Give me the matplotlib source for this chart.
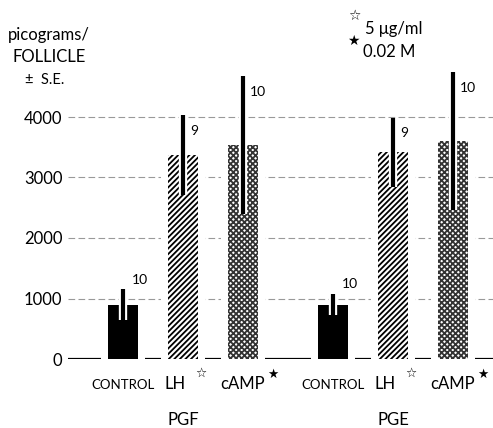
import matplotlib
matplotlib.use('Agg')
import matplotlib.pyplot as plt
import matplotlib.patheffects as pe

# data
groups = ['PGF', 'PGE']
treatments = ['CONTROL', 'LH', 'cAMP']
means = [900, 3370, 3530, 900, 3420, 3600]
se = [250, 660, 1140, 175, 570, 1140]
n_labels = ['10', '9', '10', '10', '9', '10']
yticks = [0, 1000, 2000, 3000, 4000]

W, H = 493, 428
plt.rcParams['font.family'] = ['Lato', 'DejaVu Sans']
plt.rcParams['hatch.linewidth'] = 1.3

fig = plt.figure(figsize=(W / 100, H / 100), dpi=100)
# axes: y=0 at pixel 359, 5000 at 56.5; x unit = 60 px, 0 at pixel 123
x0_px, unit = 123, 60
ax = fig.add_axes([68 / W, (H - 359) / H, 1 - 68 / W, (359 - 56.5) / H])
ax.set_xlim((68 - x0_px) / unit, (W - x0_px) / unit)
ax.set_ylim(0, 5000)

pos = [0, 1, 2, 3.5, 4.5, 5.5]
width = 0.5
margin = 0.12
styles = [dict(color='black'),
          dict(color='white', edgecolor='black', hatch='//////', linewidth=0),
          dict(color='white', edgecolor='#333333', hatch='xxxxxx', linewidth=0)]

# dashed gridlines (drawn behind white masks)
for v in yticks[1:]:
    ax.axhline(v, color='#999999', lw=0.8, dashes=(6, 3), zorder=1)

for i, (p, m, s) in enumerate(zip(pos, means, se)):
    st = styles[i % 3]
    ax.bar(p, m, width + 2 * margin, color='white', zorder=2)
    ax.bar(p, m, width, zorder=3, **st)
    ax.plot([p, p], [m - s, m + s], color='black', lw=3, solid_capstyle='butt',
            zorder=4, path_effects=[pe.Stroke(linewidth=6, foreground='white'), pe.Normal()])
    if i % 3 == 0:
        ax.text(p + 0.15, m + s + 60, n_labels[i], fontsize=10, va='bottom', ha='left', zorder=5)
    else:
        ax.text(p + 0.12, m + s - 260, n_labels[i], fontsize=10, va='center', ha='left', zorder=5)

# baseline pieces between bars
edges = [ax.get_xlim()[0]]
for p in pos:
    edges += [p - width / 2 - margin, p + width / 2 + margin]
edges.append(ax.get_xlim()[1])
for a, b in zip(edges[::2], edges[1::2]):
    ax.plot([a, b], [0, 0], color='black', lw=1.6, solid_capstyle='butt', zorder=3)

for sp in ax.spines.values():
    sp.set_visible(False)
ax.set_xticks([])
ax.set_yticks(yticks)
ax.set_yticklabels([str(v) for v in yticks], fontsize=12)
ax.tick_params(axis='y', length=0, pad=4)


def fy(y):
    return (H - y) / H


def fx(x):
    return x / W


# category labels under the bars
for g in range(2):
    base = pos[g * 3]
    fig.text(fx(x0_px + base * unit), fy(385), treatments[0], fontsize=9.5,
             ha='center', va='center')
    lx = x0_px + (base + 1) * unit - 8
    fig.text(fx(lx), fy(384), treatments[1], fontsize=12, ha='center', va='center')
    fig.text(fx(lx + 26), fy(373), '\u2606', fontsize=9, ha='center', va='center',
             family=['DejaVu Sans'])
    cx = x0_px + (base + 2) * unit
    fig.text(fx(cx), fy(384), treatments[2], fontsize=12, ha='center', va='center')
    fig.text(fx(cx + 30), fy(374), '\u2605', fontsize=9, ha='center', va='center',
             family=['DejaVu Sans'])
    fig.text(fx(x0_px + (base + 1) * unit), fy(420), groups[g], fontsize=12,
             ha='center', va='center')

# y axis title
fig.text(fx(8), fy(35), 'picograms/', fontsize=12, ha='left', va='center')
fig.text(fx(12), fy(57), 'FOLLICLE', fontsize=12, ha='left', va='center')
fig.text(fx(25), fy(80), '\u00b1  S.E.', fontsize=10.5, ha='left', va='center')

# legend
fig.text(fx(354), fy(16), '\u2606', fontsize=10, ha='center', va='center', family=['DejaVu Sans'])
fig.text(fx(365), fy(29), '5 \u03bcg/ml', fontsize=12, ha='left', va='center')
fig.text(fx(353), fy(41), '\u2605', fontsize=10, ha='center', va='center', family=['DejaVu Sans'])
fig.text(fx(363), fy(52), '0.02 M', fontsize=12, ha='left', va='center')

fig.savefig('out.png', dpi=100)
